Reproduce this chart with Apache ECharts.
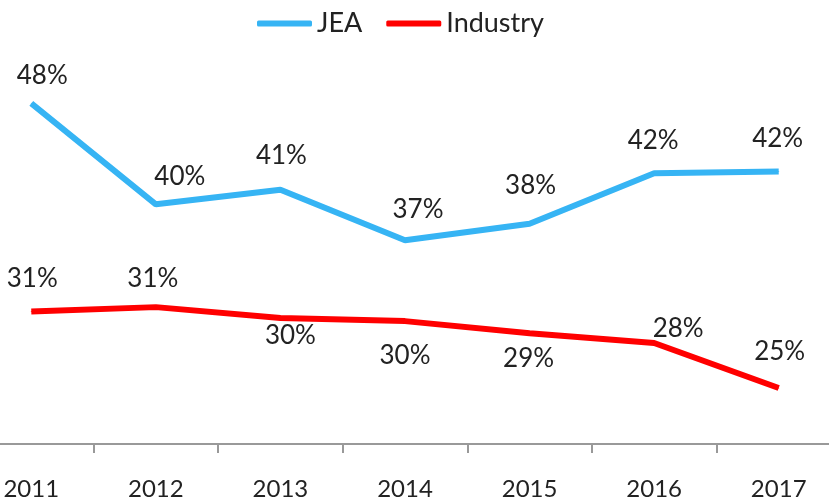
<!DOCTYPE html>
<html>
<head>
<meta charset="utf-8">
<script src="https://cdn.jsdelivr.net/npm/echarts@6/dist/echarts.min.js"></script>
<style>
  html, body { margin: 0; padding: 0; background: #fff; overflow: hidden; }
  /* the plot runs past both edges of the window, so the div is wider and shifted */
  #chart { position: absolute; left: -31px; top: 0; width: 872px; height: 502px; }
</style>
</head>
<body>
<div id="chart"></div>
<script>
const years = ['2011', '2012', '2013', '2014', '2015', '2016', '2017'];
const jea = [48.0, 39.7, 40.9, 36.75, 38.1, 42.25, 42.4];
const industry = [30.9, 31.25, 30.35, 30.1, 29.1, 28.3, 24.6];

// hand placed labels, like the original
const jeaLabelOffsets = [[11, -28], [24, -28], [1, -34], [13, -31], [1, -38], [-1, -33], [-1, -33]];
const indLabelOffsets = [[1, -33], [-3, -29], [10, 18], [0, 34], [-1, 25], [24, -14], [1, -36]];

const FONT = 'Lato';
const TEXT = '#222';

const withLabels = (values, offsets) => values.map((v, i) => ({
    value: v,
    label: { offset: offsets[i] },
}));

const chart = echarts.init(document.getElementById('chart'));

chart.setOption({
    animation: false,
    textStyle: { fontFamily: FONT, color: TEXT },
    legend: {
        top: 5,
        left: 283,
        itemWidth: 55,
        itemHeight: 6,
        itemGap: 24,
        icon: 'roundRect',
        textStyle: { fontFamily: FONT, fontSize: 27, color: TEXT },
        data: ['JEA', 'Industry'],
    },
    grid: {
        left: 0,
        right: 0,
        top: 79,
        bottom: 58,
    },
    xAxis: {
        type: 'category',
        data: years,
        boundaryGap: true,
        axisLine: { show: true, lineStyle: { color: '#999', width: 2 } },
        axisTick: {
            show: true,
            alignWithLabel: false,
            interval: 0,
            length: 9,
            lineStyle: { color: '#999', width: 2 },
        },
        axisLabel: { fontFamily: FONT, fontSize: 24, color: TEXT, margin: 33 },
    },
    yAxis: {
        type: 'value',
        min: 20,
        max: 50,
        show: false,
        splitLine: { show: false },
    },
    series: [
        {
            name: 'JEA',
            type: 'line',
            data: withLabels(jea, jeaLabelOffsets),
            symbol: 'circle',
            symbolSize: 1,
            color: '#36b4f4',
            lineStyle: { width: 6, color: '#36b4f4' },
            label: {
                show: true,
                position: 'inside',
                fontFamily: FONT,
                fontSize: 26,
                color: TEXT,
                formatter: p => Math.round(p.value) + '%',
            },
        },
        {
            name: 'Industry',
            type: 'line',
            data: withLabels(industry, indLabelOffsets),
            symbol: 'circle',
            symbolSize: 1,
            color: '#ff0000',
            lineStyle: { width: 6, color: '#ff0000' },
            label: {
                show: true,
                position: 'inside',
                fontFamily: FONT,
                fontSize: 26,
                color: TEXT,
                formatter: p => Math.round(p.value) + '%',
            },
        },
    ],
});
</script>
</body>
</html>
